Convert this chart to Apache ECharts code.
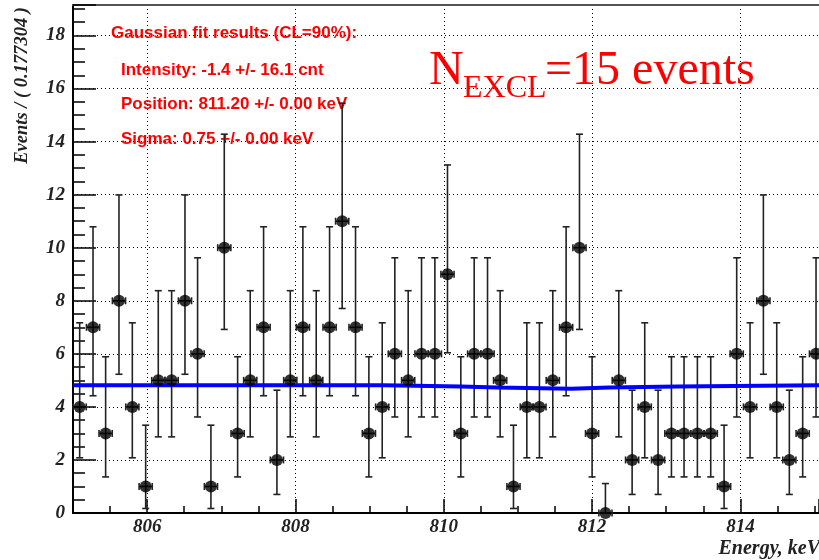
<!DOCTYPE html>
<html>
<head>
<meta charset="utf-8">
<script src="https://cdn.jsdelivr.net/npm/echarts@6/dist/echarts.min.js"></script>
<style>
html, body { margin: 0; padding: 0; background: #fff; }
#chart { width: 819px; height: 560px; }
</style>
</head>
<body>
<div id="chart"></div>
<script>
"use strict";

// bin centres, keV (bin width 0.177304)
var binCenters = [805.09, 805.27, 805.44, 805.62, 805.80, 805.98, 806.15, 806.33, 806.51, 806.68,
	806.86, 807.04, 807.22, 807.39, 807.57, 807.75, 807.93, 808.10, 808.28, 808.46,
	808.63, 808.81, 808.99, 809.17, 809.34, 809.52, 809.70, 809.88, 810.05, 810.23,
	810.41, 810.59, 810.76, 810.94, 811.12, 811.29, 811.47, 811.65, 811.83, 812.00,
	812.18, 812.36, 812.54, 812.71, 812.89, 813.07, 813.24, 813.42, 813.60, 813.78,
	813.95, 814.13, 814.31, 814.49, 814.66, 814.84, 815.02];
var counts = [4, 7, 3, 8, 4, 1, 5, 5, 8, 6,
	1, 10, 3, 5, 7, 2, 5, 7, 5, 7,
	11, 7, 3, 4, 6, 5, 6, 6, 9, 3,
	6, 6, 5, 1, 4, 4, 5, 7, 10, 3,
	0, 5, 2, 4, 2, 3, 3, 3, 3, 1,
	6, 4, 8, 4, 2, 3, 6];
// error bar ends for each count value
var errLowByCount = [0, 0.17, 0.70, 1.36, 2.08, 2.87, 3.62, 4.42, 5.23, 6.04, 6.92, 7.71];
var errHighByCount = [1.11, 3.31, 4.63, 5.89, 7.17, 8.38, 9.62, 10.79, 11.99, 13.12, 14.28, 15.45];

// fitted curve (drawn as steps)
var fitX = [805, 809.19, 810.23, 810.72, 811.72, 812.23, 813.16, 815.06];
var fitY = [4.82, 4.77, 4.73, 4.68, 4.73, 4.77, 4.82, 4.82];

var fitText = [
	'Gaussian fit results (CL=90%):',
	'Intensity: -1.4 +/- 16.1 cnt',
	'Position: 811.20 +/- 0.00 keV',
	'Sigma: 0.75 +/- 0.00 keV'
];

var HALF_BIN = 0.0887;
var SERIF = '"Liberation Serif", "Times New Roman", serif';
var SANS = '"Liberation Sans", Arial, sans-serif';

var chart = echarts.init(document.getElementById('chart'));

var points = [];
for (var i = 0; i < counts.length; i++) {
	points.push([binCenters[i], counts[i], errLowByCount[counts[i]], errHighByCount[counts[i]]]);
}
var fitData = [];
for (var j = 0; j < fitX.length; j++) {
	fitData.push([fitX[j], fitY[j]]);
}

function renderErrorBar(params, api) {
	var x = api.value(0);
	var y = api.value(1);
	var c = api.coord([x, y]);
	var lo = api.coord([x, api.value(2)]);
	var hi = api.coord([x, api.value(3)]);
	var left = api.coord([x - HALF_BIN, y]);
	var right = api.coord([x + HALF_BIN, y]);
	var cap = 3.5;
	var style = { stroke: '#222', lineWidth: 1.6 };
	return {
		type: 'group',
		children: [
			{ type: 'line', shape: { x1: c[0], y1: lo[1], x2: c[0], y2: hi[1] }, style: style },
			{ type: 'line', shape: { x1: c[0] - cap, y1: hi[1], x2: c[0] + cap, y2: hi[1] }, style: style },
			{ type: 'line', shape: { x1: c[0] - cap, y1: lo[1], x2: c[0] + cap, y2: lo[1] }, style: style },
			{ type: 'line', shape: { x1: left[0], y1: c[1], x2: right[0], y2: c[1] }, style: style },
			{ type: 'line', shape: { x1: left[0], y1: c[1] - cap, x2: left[0], y2: c[1] + cap }, style: style },
			{ type: 'line', shape: { x1: right[0], y1: c[1] - cap, x2: right[0], y2: c[1] + cap }, style: style }
		]
	};
}

var labelStyle = {
	fontFamily: SERIF,
	fontStyle: 'italic',
	fontWeight: 'bold',
	fontSize: 19,
	color: '#222'
};
var dotted = { color: '#000', type: [1, 3], width: 1 };

chart.setOption({
	animation: false,
	grid: {
		left: 73,
		right: 0,
		top: 5,
		bottom: 47,
		outerBoundsMode: 'none'
	},
	xAxis: [{
		type: 'value',
		min: 805,
		max: 815.06,
		splitNumber: 5,
		axisLine: { onZero: false, lineStyle: { color: '#000', width: 2 } },
		axisTick: { inside: true, length: 14, lineStyle: { color: '#000', width: 1.5 } },
		minorTick: { show: true, splitNumber: 4, length: 7, lineStyle: { color: '#000', width: 1.5 } },
		axisLabel: Object.assign({ showMinLabel: false, showMaxLabel: false, margin: 5 }, labelStyle),
		splitLine: { show: true, lineStyle: dotted }
	}, {
		type: 'value',
		position: 'top',
		min: 805,
		max: 815.06,
		axisLine: { show: true, onZero: false, lineStyle: { color: '#555', width: 2 } },
		axisTick: { show: false },
		axisLabel: { show: false },
		splitLine: { show: false }
	}],
	yAxis: {
		type: 'value',
		min: 0,
		max: 19.15,
		interval: 2,
		axisLine: { show: true, onZero: false, lineStyle: { color: '#000', width: 2 } },
		axisTick: { show: true, inside: true, length: 23, lineStyle: { color: '#000', width: 1.5 } },
		minorTick: { show: true, splitNumber: 4, length: 12, lineStyle: { color: '#000', width: 1.5 } },
		axisLabel: Object.assign({ showMaxLabel: false, margin: 8 }, labelStyle),
		splitLine: { show: true, lineStyle: dotted }
	},
	series: [{
		type: 'custom',
		renderItem: renderErrorBar,
		data: points,
		z: 2
	}, {
		type: 'line',
		data: fitData,
		step: 'end',
		symbol: 'none',
		lineStyle: { color: '#0000ff', width: 4 },
		z: 3
	}, {
		type: 'scatter',
		data: points,
		symbol: 'circle',
		symbolSize: 12,
		itemStyle: { color: '#000' },
		z: 4
	}],
	graphic: [
		{ type: 'text', x: 111, y: 33.5, style: { text: fitText[0], fill: '#ff0000', font: 'bold 17px ' + SANS, align: 'left', verticalAlign: 'middle' } },
		{ type: 'text', x: 121, y: 70, style: { text: fitText[1], fill: '#ff0000', font: 'bold 17px ' + SANS, align: 'left', verticalAlign: 'middle' } },
		{ type: 'text', x: 121, y: 104.5, style: { text: fitText[2], fill: '#ff0000', font: 'bold 17px ' + SANS, align: 'left', verticalAlign: 'middle' } },
		{ type: 'text', x: 121, y: 139, style: { text: fitText[3], fill: '#ff0000', font: 'bold 17px ' + SANS, align: 'left', verticalAlign: 'middle' } },
		{ type: 'text', x: 429, y: 71, style: { text: 'N', fill: '#ff0000', font: '48px ' + SERIF, align: 'left', verticalAlign: 'middle' } },
		{ type: 'text', x: 463, y: 88.5, style: { text: 'EXCL', fill: '#ff0000', font: '32px ' + SERIF, align: 'left', verticalAlign: 'middle' } },
		{ type: 'text', x: 545, y: 71, style: { text: '=15 events', fill: '#ff0000', font: '48px ' + SERIF, align: 'left', verticalAlign: 'middle' } },
		{ type: 'text', x: 22, y: 7, rotation: Math.PI / 2, style: { text: 'Events / ( 0.177304 )', fill: '#222', font: 'italic bold 18.5px ' + SERIF, align: 'right', verticalAlign: 'middle' } },
		{ type: 'text', x: 820, y: 549, style: { text: 'Energy, keV', fill: '#222', font: 'italic bold 20px ' + SERIF, align: 'right', verticalAlign: 'middle' } }
	]
});
</script>
</body>
</html>
